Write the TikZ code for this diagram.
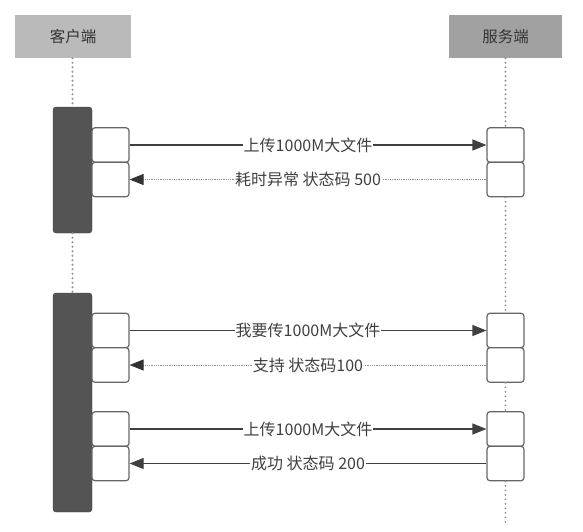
\documentclass[tikz,border=0pt]{standalone}
\usepackage{fontspec}
\newfontfamily\cjk{Noto Sans CJK SC}
\usetikzlibrary{arrows.meta}

\tikzset{
  head/.style={minimum height=43pt, inner sep=0pt, font=\cjk\fontsize{15.5}{16}\selectfont, text=black!80},
  bar/.style={draw=black!75, fill=black!67, rounded corners=3pt, minimum width=39pt, inner sep=0pt},
  actbox/.style={draw=black!60, line width=1.2pt, fill=white, rounded corners=3pt, minimum width=37pt, minimum height=34.5pt, inner sep=0pt},
  life/.style={draw=black!42, line width=2.2pt, line cap=round, dash pattern=on 0pt off 4.5pt},
  call/.style={draw=black!75, line width=1.2pt, -{Triangle[length=14pt,width=11pt]}},
  reply/.style={draw=black!45, line width=0.9pt, dash pattern=on 1pt off 0.8pt, -{Triangle[length=14pt,width=11pt,color=black!80]}},
  lbl/.style={fill=white, inner sep=1pt, font=\cjk\fontsize{16}{16}\selectfont, text=black!75}
}

\begin{document}
\begin{tikzpicture}[x=1pt, y=-1pt]
	\useasboundingbox (0,0) rectangle (583,531);

	% headers
	\node [head, fill=black!27, minimum width=116pt] (client) at (73,36.5) {客户端};
	\node [head, fill=black!37, minimum width=113pt] (server) at (505.5,36.5) {服务端};

	% activation bars
	\node [bar, minimum height=126pt] (bar1) at (72.5,170) {};
	\node [bar, minimum height=219pt] (bar2) at (72.5,402.5) {};

	% client boxes
	\node [actbox] (c1) at (110.5,145) {};
	\node [actbox] (c2) at (110.5,179.5) {};
	\node [actbox] (c3) at (110.5,330.5) {};
	\node [actbox] (c4) at (110.5,365) {};
	\node [actbox] (c5) at (110.5,429) {};
	\node [actbox] (c6) at (110.5,463.5) {};

	% server boxes
	\node [actbox] (s1) at (505.5,145) {};
	\node [actbox] (s2) at (505.5,179.5) {};
	\node [actbox] (s3) at (505.5,330.5) {};
	\node [actbox] (s4) at (505.5,365) {};
	\node [actbox] (s5) at (505.5,429) {};
	\node [actbox] (s6) at (505.5,463.5) {};

	\coordinate (send) at (505.5,522);

	% lifelines
	\draw [life] (client.south -| bar1.north) -- (bar1.north);
	\draw [life] (bar1.south) -- (bar2.north);
	\draw [life] (server.south -| s1.north) -- (s1.north);
	\draw [life] (s2.south) -- (s3.north);
	\draw [life] (s4.south) -- (s5.north);
	\draw [life] (s6.south) -- (send);

	% messages
	\draw [call] (c1.east) -- node [lbl] {上传1000M大文件} (s1.west);
	\draw [reply] (s2.west) -- node [lbl] {耗时异常 状态码 500} (c2.east);
	\draw [call] (c3.east) -- node [lbl] {我要传1000M大文件} (s3.west);
	\draw [reply] (s4.west) -- node [lbl] {支持 状态码100} (c4.east);
	\draw [call] (c5.east) -- node [lbl] {上传1000M大文件} (s5.west);
	\draw [call] (s6.west) -- node [lbl] {成功 状态码 200} (c6.east);
\end{tikzpicture}
\end{document}
